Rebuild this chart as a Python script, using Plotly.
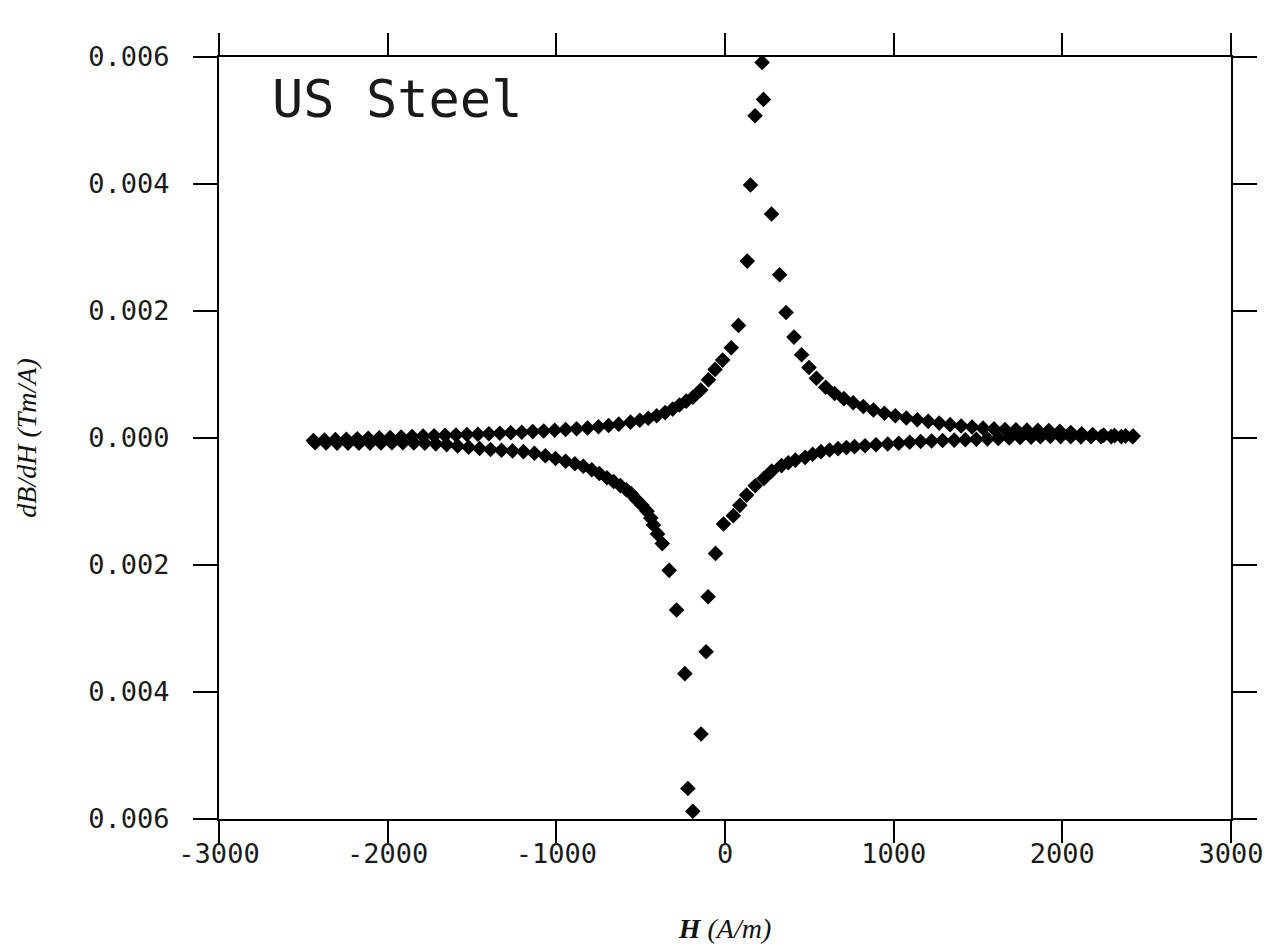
import plotly.graph_objects as go

# H (A/m) and dB/dH (in units of 1e-3 T m/A), upper branch of the loop
upper_H = [-2440, -2375, -2310, -2245, -2180, -2115, -2050, -1985, -1920, -1855,
           -1790, -1725, -1660, -1595, -1530, -1465, -1400, -1335, -1270, -1205,
           -1140, -1075, -1010, -945, -880, -815,
           -750, -690, -630, -560, -505, -455, -405, -355, -310, -270, -230, -190,
           -144, -98, -59, -14, 37, 80, 132, 151, 178, 220, 228,
           276, 324, 362, 409, 454, 498, 542, 597, 650, 705, 760, 820, 880, 945,
           1010, 1075, 1140, 1205, 1270, 1335, 1400, 1465, 1530, 1595,
           1660, 1725, 1790, 1855, 1920, 1985, 2050, 2115, 2180, 2245,
           2310, 2375, 2420]
upper_dBdH_e3 = [-0.040, -0.033, -0.026, -0.019, -0.012, -0.005, 0.002, 0.009, 0.016, 0.023,
                 0.030, 0.036, 0.042, 0.048, 0.054, 0.060, 0.066, 0.074, 0.082, 0.091,
                 0.101, 0.111, 0.122, 0.133, 0.145, 0.157,
                 0.176, 0.196, 0.218, 0.250, 0.280, 0.312, 0.350, 0.400, 0.455, 0.520, 0.580, 0.641,
                 0.756, 0.918, 1.080, 1.227, 1.422, 1.773, 2.786, 3.985, 5.075, 5.914, 5.332,
                 3.527, 2.571, 1.977, 1.589, 1.310, 1.110, 0.942, 0.800, 0.700, 0.620, 0.555, 0.495, 0.440, 0.390,
                 0.350, 0.315, 0.288, 0.262, 0.235, 0.210, 0.190, 0.173, 0.155, 0.143,
                 0.135, 0.128, 0.124, 0.120, 0.117, 0.105, 0.085, 0.068, 0.055, 0.045,
                 0.038, 0.033, 0.030]

# lower branch of the loop
lower_H = [-2430, -2365, -2300, -2235, -2170, -2105, -2040, -1975, -1910, -1845,
           -1780, -1715, -1650, -1585, -1520, -1455, -1390, -1325, -1260, -1195, -1130,
           -1065, -1005, -945, -890, -840, -790, -745, -700, -660, -620,
           -585, -555, -524, -492, -462, -440, -424, -400, -372, -331,
           -287, -238, -220, -191,
           -142, -112, -100, -56, -9, 49, 88, 128, 179, 231,
           277, 335, 375, 417, 475, 520, 569, 620, 670, 720,
           768, 830, 895, 965, 1030, 1095, 1160, 1225, 1290, 1359,
           1425, 1490, 1556, 1620, 1685, 1750, 1815, 1870, 1929, 1990,
           2050, 2110, 2170, 2230, 2290, 2350, 2416]
lower_dBdH_e3 = [-0.075, -0.078, -0.080, -0.080, -0.081, -0.080, -0.078, -0.075, -0.075, -0.078,
                 -0.083, -0.092, -0.105, -0.125, -0.145, -0.165, -0.182, -0.193, -0.203, -0.215, -0.240,
                 -0.280, -0.322, -0.365, -0.405, -0.445, -0.500, -0.558, -0.625, -0.685, -0.750,
                 -0.815, -0.880, -0.971, -1.060, -1.153, -1.260, -1.370, -1.510, -1.663, -2.084,
                 -2.709, -3.711, -5.520, -5.879,
                 -4.661, -3.367, -2.499, -1.817, -1.355, -1.223, -1.061, -0.899, -0.752, -0.636,
                 -0.521, -0.435, -0.390, -0.348, -0.305, -0.255, -0.215, -0.188, -0.168, -0.151,
                 -0.136, -0.122, -0.106, -0.094, -0.082, -0.068, -0.056, -0.048, -0.040, -0.034,
                 -0.027, -0.020, -0.013, -0.006, 0.000, 0.007, 0.013, 0.019, 0.024, 0.022,
                 0.020, 0.018, 0.019, 0.021, 0.022, 0.022, 0.022]

x_ticks = [-3000, -2000, -1000, 0, 1000, 2000, 3000]
x_tick_text = ["-3000", "-2000", "-1000", "0", "1000", "2000", "3000"]
y_ticks = [0.006, 0.004, 0.002, 0.0, -0.002, -0.004, -0.006]
y_tick_text = ["0.006", "0.004", "0.002", "0.000", "0.002", "0.004", "0.006"]

tick_font = dict(family="DejaVu Sans Mono", size=27, color="#1a1a1a")
title_font = dict(family="Liberation Serif", size=28, color="#111111", style="italic")

fig = go.Figure()
marker = dict(symbol="diamond", size=12, color="black", line=dict(width=0))
fig.add_trace(go.Scatter(x=upper_H, y=[v / 1000 for v in upper_dBdH_e3], mode="markers",
                         marker=marker, name="upper branch", showlegend=False))
fig.add_trace(go.Scatter(x=lower_H, y=[v / 1000 for v in lower_dBdH_e3], mode="markers",
                         marker=marker, name="lower branch", showlegend=False))

fig.update_layout(
    width=1272, height=948,
    margin=dict(l=211, r=49, t=49, b=137),
    paper_bgcolor="white", plot_bgcolor="white",
    annotations=[dict(text="US Steel", xref="paper", yref="paper", x=0.05, y=0.945,
                      xanchor="left", yanchor="middle", showarrow=False,
                      font=dict(family="DejaVu Sans Mono", size=52, color="#1a1a1a"))],
)
fig.update_xaxes(range=[-3000, 3000], tickvals=x_ticks, ticktext=x_tick_text,
                 showgrid=False, zeroline=False, showline=True, linecolor="black", linewidth=2,
                 mirror="ticks", ticks="outside", ticklen=22, tickwidth=1.5, tickcolor="black",
                 tickfont=tick_font, ticklabelstandoff=-12,
                 title=dict(text="<b>H</b> (A/m)", font=title_font, standoff=50))
fig.update_yaxes(range=[-0.006, 0.006], tickvals=y_ticks, ticktext=y_tick_text,
                 showgrid=False, zeroline=False, showline=True, linecolor="black", linewidth=2,
                 mirror="ticks", ticks="outside", ticklen=24, tickwidth=1.5, tickcolor="black",
                 tickfont=tick_font, ticklabelstandoff=18,
                 title=dict(text="dB/dH (Tm/A)", font=title_font, standoff=44))

fig.write_html("out.html")
